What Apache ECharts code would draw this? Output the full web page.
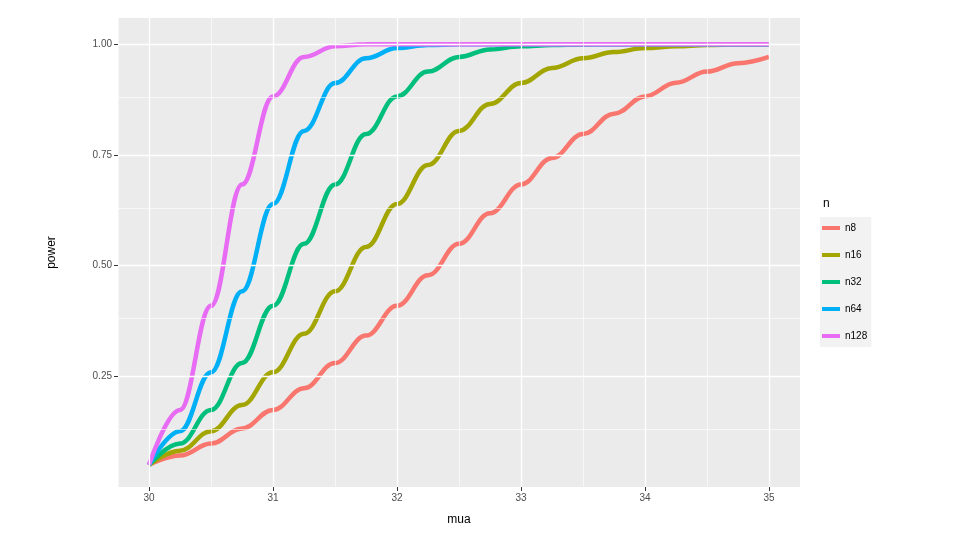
<!DOCTYPE html>
<html><head><meta charset="utf-8">
<script src="https://cdn.jsdelivr.net/npm/echarts@6/dist/echarts.min.js"></script>
<style>html,body{margin:0;background:#fff}#c{width:960px;height:540px}</style></head>
<body><div id="c"></div>
<script>
const mua = [30,30.25,30.5,30.75,31,31.25,31.5,31.75,32,32.25,32.5,32.75,33,33.25,33.5,33.75,34,34.25,34.5,34.75,35];
const n8   = [0.05,0.071,0.098,0.132,0.174,0.223,0.280,0.342,0.409,0.478,0.549,0.618,0.683,0.743,0.797,0.843,0.882,0.913,0.938,0.957,0.971];
const n16  = [0.05,0.082,0.126,0.185,0.259,0.346,0.442,0.542,0.639,0.727,0.804,0.865,0.912,0.946,0.968,0.982,0.991,0.995,0.998,0.999,1.0];
const n32  = [0.05,0.098,0.174,0.280,0.409,0.549,0.683,0.797,0.882,0.938,0.971,0.988,0.995,0.998,0.999,1,1,1,1,1,1];
const n64  = [0.05,0.126,0.259,0.442,0.639,0.804,0.912,0.968,0.991,0.998,0.9995,1,1,1,1,1,1,1,1,1,1];
const n128 = [0.05,0.174,0.409,0.683,0.882,0.971,0.995,0.9995,1,1,1,1,1,1,1,1,1,1,1,1,1];
const seriesNames = ['n8','n16','n32','n64','n128'];
const seriesVals = [n8,n16,n32,n64,n128];
const colors = ['#F8766D','#A3A500','#00BF7D','#00B0F6','#E76BF3'];
const xMajor = [30,31,32,33,34,35];
const xMinor = [29.75,30.5,31.5,32.5,33.5,34.5,35.25];
const yMajor = [0.25,0.5,0.75,1.0];
const yMinor = [0.125,0.375,0.625,0.875];

const ml = (vals, key, w) => vals.map(v => ({[key]: v, lineStyle:{color:'#fff', width:w, type:'solid'}}));
const chart = echarts.init(document.getElementById('c'));
chart.setOption({
  animation:false,
  title:{text:'n', left:818, top:193, textStyle:{fontSize:12, fontWeight:'normal', color:'#000', fontFamily:'Liberation Sans'}},
  legend:{orient:'vertical', left:820, top:217, itemWidth:18, itemHeight:4, itemGap:17, icon:'rect',
    data:seriesNames, textStyle:{fontSize:10, color:'#000', fontFamily:'Liberation Sans'},
    backgroundColor:'#F2F2F2', padding:[6,4,6,2]},
  grid:{left:118, right:160, top:18, bottom:53, show:true, backgroundColor:'#EBEBEB', borderWidth:0},
  xAxis:{type:'value', min:29.75, max:35.25, name:'mua', nameLocation:'middle', nameGap:27,
    nameTextStyle:{fontSize:12, color:'#000', fontFamily:'Liberation Sans'},
    axisLine:{show:false}, splitLine:{show:false},
    axisTick:{customValues:xMajor, length:4, lineStyle:{color:'#333'}},
    axisLabel:{customValues:xMajor, fontSize:10, color:'#4D4D4D', margin:6, fontFamily:'Liberation Sans'}},
  yAxis:{type:'value', min:0, max:1.059, name:'power', nameLocation:'middle', nameGap:60, nameRotate:90,
    nameTextStyle:{fontSize:12, color:'#000', fontFamily:'Liberation Sans'},
    axisLine:{show:false}, splitLine:{show:false},
    axisTick:{show:true, customValues:yMajor, length:4, lineStyle:{color:'#333'}},
    axisLabel:{customValues:yMajor, fontSize:10, color:'#4D4D4D', margin:6, formatter:v=>v.toFixed(2), fontFamily:'Liberation Sans'}},
  series:[
    {type:'line', name:'grid', data:[], z:1, silent:true,
     markLine:{silent:true, symbol:'none', label:{show:false}, animation:false,
       data:[...ml(xMinor,'xAxis',0.6), ...ml(yMinor,'yAxis',0.6), ...ml(xMajor,'xAxis',1.3), ...ml(yMajor,'yAxis',1.3)]}},
    ...seriesNames.map((nm,i)=>({type:'line', name:nm, z:3, showSymbol:false, smooth:0.4, smoothMonotone:'x',
      color:colors[i], lineStyle:{width:4.5, color:colors[i]},
      data: mua.map((x,j)=>[x, seriesVals[i][j]])}))
  ]
});
</script></body></html>
